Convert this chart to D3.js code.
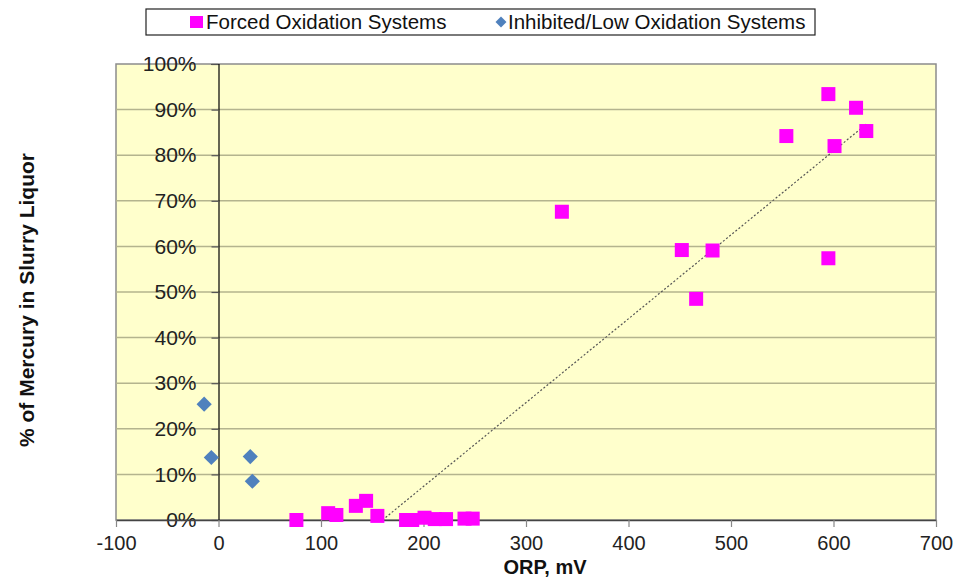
<!DOCTYPE html>
<html>
<head>
<meta charset="utf-8">
<script src="https://cdn.jsdelivr.net/npm/d3@7"></script>
<style>
  body { margin: 0; background: #fff; }
  text { font-family: "Liberation Sans", Arial, sans-serif; }
</style>
</head>
<body>
<svg id="chart" width="965" height="578"></svg>
<script>
// ORP (mV) vs % of mercury in slurry liquor
var forcedOrp = [76, 107, 115, 134, 144, 155, 183, 189, 201, 211, 222, 240, 248,
                 335, 452, 466, 482, 554, 595, 595, 601, 622, 632];
var forcedHg  = [0, 1.5, 1.1, 3.1, 4.2, 0.9, 0, 0, 0.5, 0.2, 0.2, 0.3, 0.3,
                 67.6, 59.2, 48.5, 59.1, 84.2, 93.4, 57.4, 82, 90.4, 85.3];
var inhibitedOrp = [-14, -7, 31, 33];
var inhibitedHg  = [25.4, 13.7, 13.9, 8.5];
// trendline ends (clipped at 0%)
var trendOrp = [160, 632];
var trendHg  = [0, 86.8];
var xTicks = [-100, 0, 100, 200, 300, 400, 500, 600, 700];
var yTicks = [0, 10, 20, 30, 40, 50, 60, 70, 80, 90, 100];
var seriesNames = ["Forced Oxidation Systems", "Inhibited/Low Oxidation Systems"];

(function(){
    var svg = d3.select("#chart");
    var left = 116, right = 936, top = 64, bottom = 520;
    var font = "'Liberation Sans', Arial, sans-serif";

    var x = d3.scaleLinear().domain([-100, 700]).range([left, right]);
    var y = d3.scaleLinear().domain([0, 100]).range([bottom, top]);

    // plot area
    svg.append("rect")
        .attr("x", left).attr("y", top)
        .attr("width", right - left).attr("height", bottom - top)
        .attr("fill", "#FFFFCC")
        .attr("stroke", "#8c8c8c")
        .attr("stroke-width", 1.5);

    // horizontal gridlines
    svg.selectAll(".grid").data(yTicks.slice(1, -1))
        .enter().append("line")
        .attr("x1", left).attr("x2", right)
        .attr("y1", function(d) { return y(d); })
        .attr("y2", function(d) { return y(d); })
        .attr("stroke", "#b4b48e")
        .attr("stroke-width", 1.5);

    // vertical axis at x = 0, labels sit on its left inside the plot
    var yAxis = svg.append("g")
        .attr("transform", "translate(" + x(0) + ",0)")
        .call(d3.axisLeft(y).tickValues(yTicks)
            .tickSize(7).tickPadding(15)
            .tickFormat(function(d) { return d + "%"; }));
    yAxis.select(".domain").attr("stroke", "#000").attr("stroke-width", 1.2);
    yAxis.selectAll(".tick line").attr("stroke", "#555").attr("stroke-width", 1.2);
    yAxis.selectAll("text")
        .attr("font-size", 21)
        .attr("fill", "#222")
        .style("font-family", font);

    // bottom axis
    var xAxis = svg.append("g")
        .attr("transform", "translate(0," + bottom + ")")
        .call(d3.axisBottom(x).tickValues(xTicks)
            .tickSize(7).tickPadding(9)
            .tickSizeOuter(0)
            .tickFormat(function(d) { return String(d); }));
    xAxis.select(".domain").attr("stroke", "#444").attr("stroke-width", 1.5);
    xAxis.selectAll(".tick line").attr("stroke", "#888").attr("stroke-width", 1.2);
    xAxis.selectAll("text")
        .attr("font-size", 20)
        .attr("fill", "#222")
        .style("font-family", font);

    // trendline
    svg.append("line")
        .attr("x1", x(trendOrp[0])).attr("y1", y(trendHg[0]))
        .attr("x2", x(trendOrp[1])).attr("y2", y(trendHg[1]))
        .attr("stroke", "#555")
        .attr("stroke-width", 1.2)
        .attr("stroke-dasharray", "2,2");

    // forced oxidation squares
    var sq = 14;
    svg.selectAll(".forced").data(d3.range(forcedOrp.length))
        .enter().append("rect")
        .attr("x", function(i) { return x(forcedOrp[i]) - sq / 2; })
        .attr("y", function(i) { return y(forcedHg[i]) - sq / 2; })
        .attr("width", sq).attr("height", sq)
        .attr("fill", "#FF00FF");

    // inhibited diamonds (square turned 45 degrees)
    var dm = d3.symbol().type(d3.symbolSquare).size(115);
    svg.selectAll(".inhibited").data(d3.range(inhibitedOrp.length))
        .enter().append("path")
        .attr("d", dm)
        .attr("transform", function(i) {
            return "translate(" + x(inhibitedOrp[i]) + "," + y(inhibitedHg[i]) + ") rotate(45)";
        })
        .attr("fill", "#4F81BD");

    // axis titles
    svg.append("text")
        .attr("x", 545).attr("y", 574)
        .attr("text-anchor", "middle")
        .attr("font-size", 20).attr("font-weight", "bold")
        .attr("fill", "#111")
        .text("ORP, mV");
    svg.append("text")
        .attr("transform", "translate(34,300) rotate(-90)")
        .attr("text-anchor", "middle")
        .attr("font-size", 21).attr("font-weight", "bold")
        .attr("fill", "#111")
        .text("% of Mercury in Slurry Liquor");

    // legend
    var lg = svg.append("g");
    lg.append("rect")
        .attr("x", 146).attr("y", 9)
        .attr("width", 669).attr("height", 26)
        .attr("fill", "#fff").attr("stroke", "#222").attr("stroke-width", 1.2);
    lg.append("rect")
        .attr("x", 190).attr("y", 16).attr("width", 13).attr("height", 12)
        .attr("fill", "#FF00FF");
    lg.append("text")
        .attr("x", 206).attr("y", 29)
        .attr("font-size", 20.5).attr("fill", "#111")
        .text(seriesNames[0]);
    lg.append("path")
        .attr("d", d3.symbol().type(d3.symbolSquare).size(60))
        .attr("transform", "translate(501,22) rotate(45)")
        .attr("fill", "#4F81BD");
    lg.append("text")
        .attr("x", 508).attr("y", 29)
        .attr("font-size", 20.5).attr("fill", "#111")
        .text(seriesNames[1]);
})();
</script>
</body>
</html>
